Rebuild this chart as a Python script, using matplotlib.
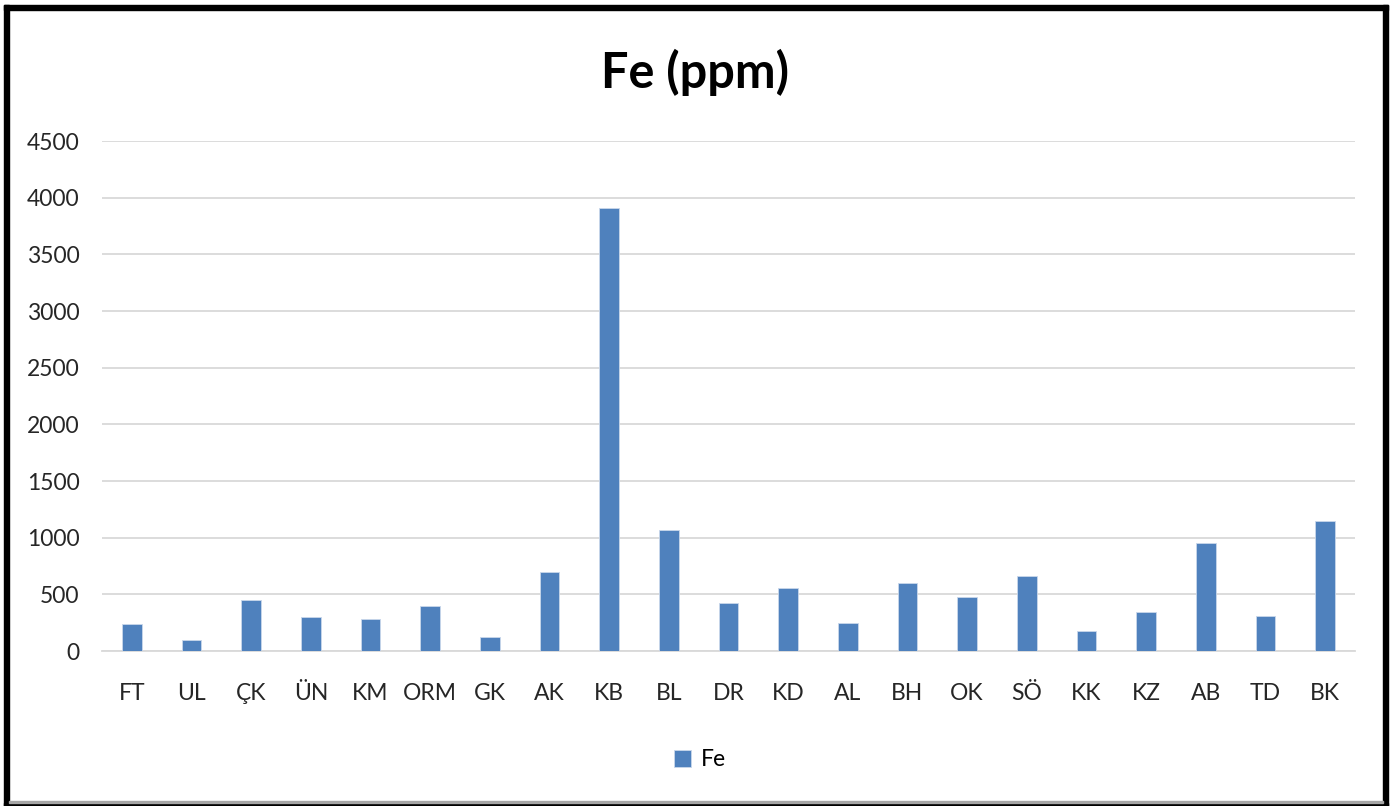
import numpy as np
import matplotlib.pyplot as plt
from matplotlib.patches import Rectangle

# Fe concentration per site (ppm)
sites = ["FT", "UL", "ÇK", "ÜN", "KM", "ORM", "GK", "AK", "KB", "BL", "DR",
         "KD", "AL", "BH", "OK", "SÖ", "KK", "KZ", "AB", "TD", "BK"]
fe_ppm = [236, 101, 451, 304, 278, 396, 127, 697, 3910, 1068, 422,
          558, 248, 596, 475, 664, 180, 340, 950, 313, 1150]
yticks = [0, 500, 1000, 1500, 2000, 2500, 3000, 3500, 4000, 4500]

plt.rcParams["font.family"] = ["Lato", "DejaVu Sans"]

W, H = 1394, 806
fig = plt.figure(figsize=(W / 100, H / 100), dpi=100)
fig.patch.set_facecolor("white")

ax = fig.add_axes([102 / W, 1 - 651 / H, 1253 / W, (651 - 141) / H])
x = np.arange(len(sites))
ax.bar(x, fe_ppm, width=0.33, color="#4F81BD", edgecolor="#C9D7EB",
       linewidth=0.6, label="Fe", zorder=3)

ax.set_xlim(-0.5, len(sites) - 0.5)
ax.set_ylim(0, 4500)
ax.set_yticks(yticks)
ax.set_yticklabels([str(v) for v in yticks])
ax.set_xticks(x)
ax.set_xticklabels(sites)
ax.tick_params(axis="both", length=0, labelsize=16.5, colors="#262626")
ax.tick_params(axis="x", pad=23)
ax.tick_params(axis="y", pad=16)
ax.grid(axis="y", color="#D9D9D9", linewidth=1.3, zorder=0)
for side in ["top", "right", "left"]:
    ax.spines[side].set_visible(False)
ax.spines["bottom"].set_color("#D9D9D9")
ax.spines["bottom"].set_linewidth(1.3)
ax.set_axisbelow(True)

fig.text(695 / W, 1 - 72 / H, "Fe (ppm)", ha="center", va="center",
         fontsize=35, fontweight="bold", color="black")

leg = fig.legend(loc="center", bbox_to_anchor=(700 / W, 1 - 760 / H),
                 frameon=False, fontsize=16.5, handlelength=0.75,
                 handleheight=0.75, handletextpad=0.4)

# black frame around the chart
frame = "black"
fig.patches.extend([
    Rectangle((4 / W, 0), 5 / W, 1 - 5 / H, transform=fig.transFigure, color=frame),
    Rectangle((4 / W, 1 - 10 / H), 1384 / W, 5 / H, transform=fig.transFigure, color=frame),
    Rectangle((1383 / W, 0), 5 / W, 1 - 5 / H, transform=fig.transFigure, color=frame),
    Rectangle((4 / W, 0), 1384 / W, 3 / H, transform=fig.transFigure, color=frame),
    Rectangle((9 / W, 3 / H), 1374 / W, 2 / H, transform=fig.transFigure, color="#A6A6A6"),
])

fig.savefig("out.png", dpi=100)
